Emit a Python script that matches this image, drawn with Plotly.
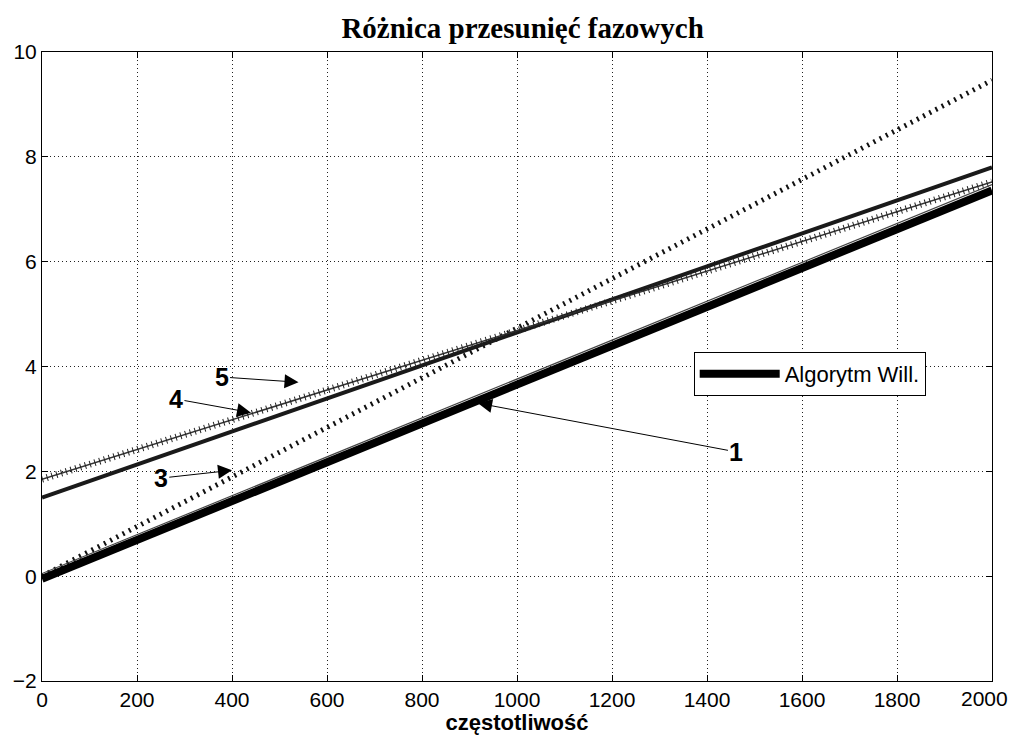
import plotly.graph_objects as go

# Data
freq_ends = [0, 2000]
line1_y = [-0.05, 7.36]   # thick, "Algorytm Will."
line2_y = [0.05, 7.47]    # thin
line3_y = [0.0, 9.46]     # dotted
line4_y = [1.5, 7.80]     # medium thick
line5_y = [1.85, 7.52]    # line with tick marks

x_ticks = [0, 200, 400, 600, 800, 1000, 1200, 1400, 1600, 1800, 2000]
x_tick_text = [str(v) for v in x_ticks]
y_ticks = [-2, 0, 2, 4, 6, 8, 10]

# annotation labels: (label, text_x, text_y, arrow_x, arrow_y)
labels = [
    ("1", 1462, 2.37, 918, 3.30),
    ("3", 250, 1.87, 400, 2.02),
    ("4", 282, 3.38, 440, 3.12),
    ("5", 378, 3.80, 540, 3.70),
]

fig = go.Figure()

fig.add_trace(go.Scatter(x=freq_ends, y=line3_y, mode="lines",
                         line=dict(color="#111", width=5, dash="2px,5px"),
                         showlegend=False))
fig.add_trace(go.Scatter(x=freq_ends, y=line4_y, mode="lines",
                         line=dict(color="#1a1a1a", width=4),
                         showlegend=False))
fig.add_trace(go.Scatter(x=freq_ends, y=line5_y, mode="lines",
                         line=dict(color="#333", width=1.5),
                         showlegend=False))
fig.add_trace(go.Scatter(x=freq_ends, y=line5_y, mode="lines",
                         line=dict(color="#222", width=7, dash="1px,4px"),
                         showlegend=False))
fig.add_trace(go.Scatter(x=freq_ends, y=line2_y, mode="lines",
                         line=dict(color="#444", width=1.2),
                         showlegend=False))
fig.add_trace(go.Scatter(x=freq_ends, y=line1_y, mode="lines",
                         line=dict(color="black", width=8),
                         name="Algorytm Will.", showlegend=True))

for txt, tx, ty, hx, hy in labels:
    fig.add_annotation(x=hx, y=hy, ax=tx, ay=ty, xref="x", yref="y",
                       axref="x", ayref="y", text="<b>" + txt + "</b>", showarrow=True,
                       arrowhead=2, arrowsize=2.8, arrowwidth=1,
                       arrowcolor="black", standoff=0, startstandoff=0,
                       font=dict(family="Liberation Sans", size=25, color="black"))

tick_font = dict(family="Liberation Sans", size=21, color="black")

# last x tick label drawn as an annotation nudged left so it stays inside the page
fig.add_annotation(x=x_ticks[-1], y=0, xref="x", yref="paper", text=x_tick_text[-1],
                   showarrow=False, xanchor="center", yanchor="top", xshift=-8,
                   yshift=-4, font=tick_font)

axis_common = dict(ticks="inside", ticklen=6, tickcolor="black", showline=True,
                   mirror="ticks", linecolor="black", linewidth=1, showgrid=True,
                   gridcolor="#222", griddash="1px,3px", gridwidth=1,
                   zeroline=False, automargin=False, tickfont=tick_font)

fig.update_layout(
    width=1011, height=727,
    margin=dict(l=34, r=27, t=44, b=54),
    plot_bgcolor="white", paper_bgcolor="white",
    title=dict(text="<b>Różnica przesunięć fazowych</b>", x=0.509, xanchor="center",
               y=0.9725, yanchor="middle",
               font=dict(family="Liberation Serif", size=29, color="black")),
    legend=dict(x=0.686, y=0.523, xanchor="left", yanchor="top",
                bgcolor="white", bordercolor="black", borderwidth=1,
                font=dict(family="Liberation Sans", size=22, color="black"),
                itemwidth=80),
    xaxis=dict(range=[0, 2000], tickvals=x_ticks,
               ticktext=x_tick_text[:-1] + [""],
               title=dict(text="<b>częstotliwość</b>", standoff=0,
                          font=dict(family="Liberation Sans", size=22, color="black")),
               **axis_common),
    yaxis=dict(range=[-2, 10], tickvals=y_ticks, **axis_common),
)

fig.write_html("out.html")
